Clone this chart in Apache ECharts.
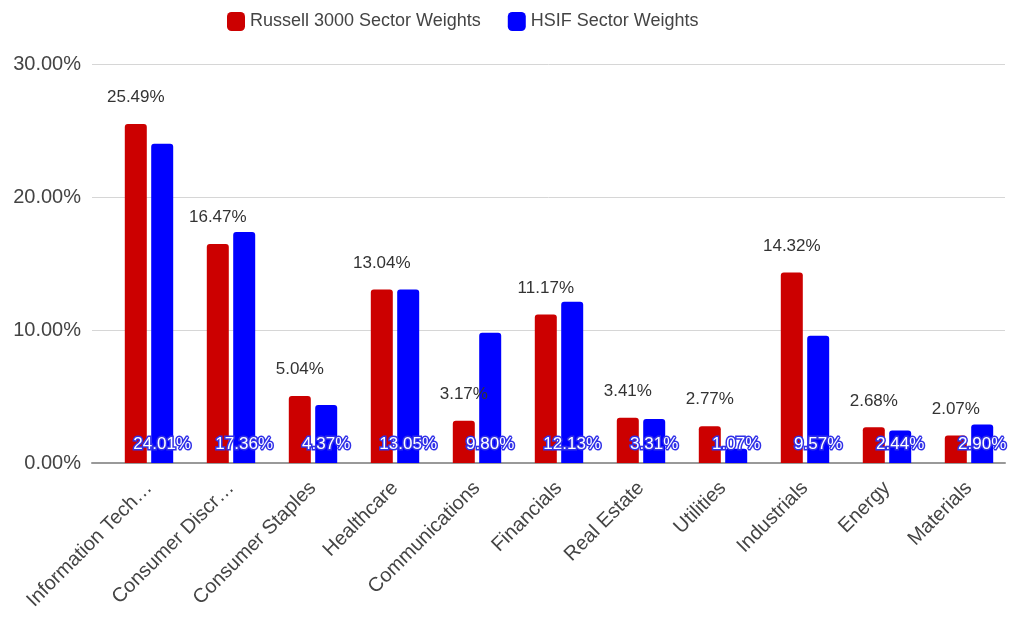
<!DOCTYPE html>
<html>
<head>
<meta charset="utf-8">
<title>Sector Weights</title>
<script src="https://cdn.jsdelivr.net/npm/echarts@6/dist/echarts.min.js"></script>
<style>
  html, body { margin: 0; padding: 0; background: #fff; }
  #chart { width: 1017px; height: 619px; }
</style>
</head>
<body>
<div id="chart"></div>
<script>
// Sector names as shown on the axis
const sectors = [
  'Information Tech…', 'Consumer Discr…', 'Consumer Staples', 'Healthcare',
  'Communications', 'Financials', 'Real Estate', 'Utilities',
  'Industrials', 'Energy', 'Materials'
];

// Weights in percent
const russell3000 = [25.49, 16.47, 5.04, 13.04, 3.17, 11.17, 3.41, 2.77, 14.32, 2.68, 2.07];
const hsif = [24.01, 17.36, 4.37, 13.05, 9.80, 12.13, 3.31, 1.07, 9.57, 2.44, 2.90];

// Value axis ticks
const yMin = 0;
const yMax = 30;
const yStep = 10;

const FONT = '"Liberation Sans", Arial, sans-serif';

const chart = echarts.init(document.getElementById('chart'));

chart.setOption({
  animation: false,
  textStyle: { fontFamily: FONT },
  legend: {
    top: 7,
    left: 222,
    itemWidth: 18,
    itemHeight: 19,
    itemGap: 27,
    icon: 'roundRect',
    textStyle: { fontSize: 18, color: '#444', fontFamily: FONT },
    data: ['Russell 3000 Sector Weights', 'HSIF Sector Weights']
  },
  // grid 0 holds the bars; grid 1 only carries the wider gridlines and baseline
  grid: [
    { left: 108, right: 7, top: 64, bottom: 156 },
    { left: 92, right: 12, top: 64, bottom: 156 }
  ],
  xAxis: [
    {
      type: 'category',
      gridIndex: 0,
      data: sectors,
      axisTick: { show: false },
      axisLine: { show: false },
      axisLabel: {
        rotate: 45,
        interval: 0,
        margin: 22,
        fontSize: 20,
        color: '#444',
        fontFamily: FONT
      }
    },
    {
      type: 'value',
      gridIndex: 1,
      min: 0,
      max: 1,
      axisTick: { show: false },
      axisLabel: { show: false },
      splitLine: { show: false },
      axisLine: { show: true, lineStyle: { color: '#999', width: 2 } }
    }
  ],
  yAxis: [
    {
      type: 'value',
      gridIndex: 0,
      min: yMin,
      max: yMax,
      interval: yStep,
      axisLine: { show: false },
      axisTick: { show: false },
      splitLine: { show: false },
      axisLabel: {
        margin: 27,
        fontSize: 20,
        color: '#444',
        fontFamily: FONT,
        formatter: v => v.toFixed(2) + '%'
      }
    },
    {
      type: 'value',
      gridIndex: 1,
      min: yMin,
      max: yMax,
      interval: yStep,
      axisLine: { show: false },
      axisTick: { show: false },
      axisLabel: { show: false },
      splitLine: { lineStyle: { color: '#d6d6d6', width: 1 } }
    }
  ],
  series: [
    {
      name: 'Russell 3000 Sector Weights',
      type: 'bar',
      xAxisIndex: 0,
      yAxisIndex: 0,
      data: russell3000,
      barWidth: 22,
      barGap: '20%',
      z: 3,
      itemStyle: { color: '#cc0000', borderRadius: [3, 3, 0, 0] },
      label: {
        show: true,
        position: 'top',
        distance: 18,
        fontSize: 17,
        color: '#333',
        fontFamily: FONT,
        formatter: p => p.value.toFixed(2) + '%'
      }
    },
    {
      name: 'HSIF Sector Weights',
      type: 'bar',
      xAxisIndex: 0,
      yAxisIndex: 0,
      data: hsif,
      barWidth: 22,
      z: 3,
      itemStyle: { color: '#0000ff', borderRadius: [3, 3, 0, 0] },
      label: {
        show: true,
        position: 'insideBottom',
        distance: 10,
        fontSize: 17,
        color: '#fff',
        textBorderColor: '#3030e8',
        textBorderWidth: 3,
        fontFamily: FONT,
        formatter: p => p.value.toFixed(2) + '%'
      },
      labelLayout: { hideOverlap: false }
    }
  ]
});
</script>
</body>
</html>
